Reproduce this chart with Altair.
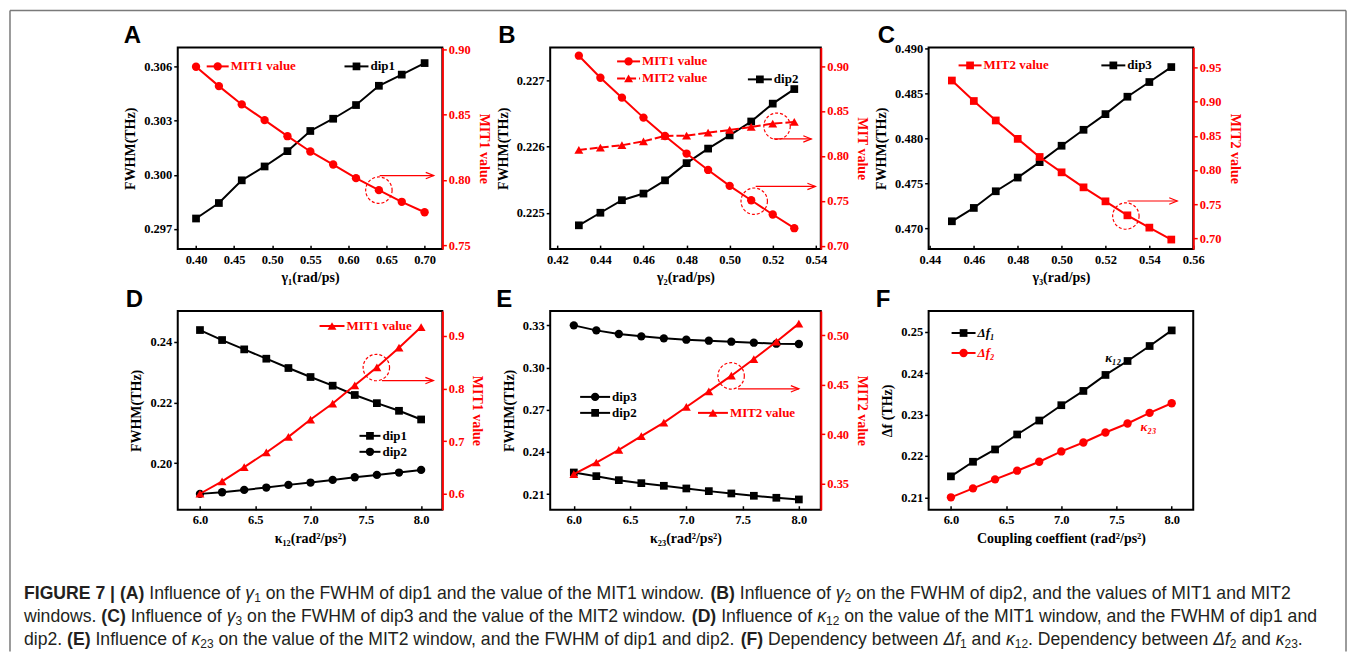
import altair as alt
import pandas as pd

SERIF = "Liberation Serif"
SANS = "Liberation Sans"
RED = "#ff0000"
BLACK = "#000000"
CAPC = "#231f20"

# ---------------- data ----------------
a_x = [0.40, 0.43, 0.46, 0.49, 0.52, 0.55, 0.58, 0.61, 0.64, 0.67, 0.70]
a_dip1 = [0.29757, 0.29843, 0.29969, 0.30046, 0.30131, 0.30243, 0.30311, 0.30387, 0.30494, 0.30556, 0.30620]
a_mit1 = [0.8865, 0.8717, 0.8577, 0.8457, 0.8334, 0.8217, 0.8117, 0.8013, 0.7921, 0.7832, 0.7752]

b_x = [0.43, 0.44, 0.45, 0.46, 0.47, 0.48, 0.49, 0.50, 0.51, 0.52, 0.53]
b_dip2 = [0.22481, 0.22500, 0.22519, 0.22529, 0.22549, 0.22575, 0.22597, 0.22617, 0.22638, 0.22665, 0.22687]
b_mit1 = [0.9115, 0.8870, 0.8648, 0.8426, 0.8222, 0.8026, 0.7844, 0.7667, 0.7507, 0.7348, 0.7196]
b_mit2 = [0.8067, 0.8093, 0.8119, 0.8163, 0.8222, 0.8226, 0.8259, 0.8289, 0.8322, 0.8359, 0.8378]

c_x = [0.45, 0.46, 0.47, 0.48, 0.49, 0.50, 0.51, 0.52, 0.53, 0.54, 0.55]
c_dip3 = [0.47079, 0.47227, 0.47412, 0.47564, 0.47735, 0.47917, 0.48094, 0.48268, 0.48461, 0.48624, 0.48790]
c_mit2 = [0.931, 0.901, 0.8725, 0.8455, 0.819, 0.7965, 0.7745, 0.754, 0.7335, 0.7155, 0.698]

k_x = [6.0, 6.2, 6.4, 6.6, 6.8, 7.0, 7.2, 7.4, 7.6, 7.8, 8.0]
d_dip1 = [0.24384, 0.24055, 0.23748, 0.23441, 0.23134, 0.22838, 0.22553, 0.22247, 0.21978, 0.21726, 0.21441]
d_dip2 = [0.18992, 0.19047, 0.19123, 0.19200, 0.19288, 0.19364, 0.19452, 0.19540, 0.19616, 0.19693, 0.19781]
d_mit1 = [0.600, 0.6234, 0.6506, 0.6785, 0.7082, 0.7411, 0.7715, 0.8063, 0.8405, 0.8778, 0.9171]

e_dip3 = [0.33000, 0.32645, 0.32385, 0.32219, 0.32077, 0.31982, 0.31911, 0.31840, 0.31769, 0.31698, 0.31675]
e_dip2 = [0.22538, 0.22278, 0.21994, 0.21780, 0.21592, 0.21402, 0.21213, 0.21047, 0.20882, 0.20740, 0.20621]
e_mit2 = [0.3598, 0.3715, 0.3843, 0.3981, 0.4118, 0.4276, 0.4434, 0.4592, 0.4760, 0.4935, 0.5118]

f_df1 = [0.21506, 0.21859, 0.22156, 0.22518, 0.22855, 0.23225, 0.23570, 0.23956, 0.24293, 0.24655, 0.25032]
f_df2 = [0.21000, 0.21217, 0.21434, 0.21643, 0.21859, 0.22108, 0.22325, 0.22566, 0.22783, 0.23040, 0.23273]

# tick labels
a_xticks = [0.40, 0.45, 0.50, 0.55, 0.60, 0.65, 0.70]
a_lticks = [0.297, 0.300, 0.303, 0.306]
a_rticks = [0.75, 0.80, 0.85, 0.90]
b_xticks = [0.42, 0.44, 0.46, 0.48, 0.50, 0.52, 0.54]
b_lticks = [0.225, 0.226, 0.227]
b_rticks = [0.70, 0.75, 0.80, 0.85, 0.90]
c_xticks = [0.44, 0.46, 0.48, 0.50, 0.52, 0.54, 0.56]
c_lticks = [0.470, 0.475, 0.480, 0.485, 0.490]
c_rticks = [0.70, 0.75, 0.80, 0.85, 0.90, 0.95]
k_xticks = [6.0, 6.5, 7.0, 7.5, 8.0]
d_lticks = [0.20, 0.22, 0.24]
d_rticks = [0.6, 0.7, 0.8, 0.9]
e_lticks = [0.21, 0.24, 0.27, 0.30, 0.33]
e_rticks = [0.35, 0.40, 0.45, 0.50]
f_lticks = [0.21, 0.22, 0.23, 0.24, 0.25]

# highlight circles (x, y on right scale) and arrows (x1, x2, y)
a_circ = [(0.64, 0.7921)]
a_arrow = [(0.641, 0.712, 0.8033)]
b_circ = [(0.522, 0.833), (0.5114, 0.7496)]
b_arrow = [(0.5205, 0.5379, 0.8189), (0.5121, 0.5398, 0.766)]
c_circ = [(0.5293, 0.7325)]
c_arrow = [(0.5301, 0.5527, 0.7545)]
d_circ = [(7.595, 0.840)]
d_arrow = [(7.646, 8.111, 0.8152)]
e_circ = [(7.398, 0.459)]
e_arrow = [(7.459, 8.0, 0.4459)]

ONE = pd.DataFrame({"o": [0]})
SIZES = {"square": 60, "circle": 70, "triangle-up": 80}


def xaxis(p):
    return alt.Axis(values=p["xticks"], format=p["xfmt"], title=p["xtitle"], orient="bottom",
                    offset=-4, domain=False, grid=False, tickSize=4, tickWidth=1.5, tickColor=BLACK,
                    labelPadding=4, labelFont=SERIF, labelFontSize=12.5, labelFontWeight="bold",
                    labelColor=BLACK, labelFlush=False, labelOverlap=False,
                    titleFont=SERIF, titleFontSize=14, titleFontWeight="bold", titleColor=BLACK,
                    titlePadding=5)


def Xenc(p, field="x"):
    return alt.X(f"{field}:Q", scale=alt.Scale(domain=p["xdom"], nice=False, zero=False), axis=xaxis(p))


def Lenc(p):
    ax = alt.Axis(values=p["lticks"], format=p["lfmt"], title=p["ltitle"], orient="left",
                  domain=False, grid=False, tickSize=4, tickWidth=1.5, tickColor=BLACK,
                  labelPadding=2, labelFont=SERIF, labelFontSize=12.5, labelFontWeight="bold",
                  labelColor=BLACK, labelOverlap=False, labelFlush=False,
                  titleFont=SERIF, titleFontSize=14, titleFontWeight="bold", titleColor=BLACK,
                  titlePadding=6)
    return alt.Y("y:Q", scale=alt.Scale(domain=p["ldom"], nice=False, zero=False), axis=ax)


def Renc(p):
    ax = alt.Axis(values=p["rticks"], format=p["rfmt"], title=p["rtitle"], orient="right",
                  domain=True, domainColor=RED, domainWidth=2, grid=False, tickSize=4,
                  tickWidth=1.5, tickColor=RED, labelPadding=2, labelFont=SERIF,
                  labelFontSize=12.5, labelFontWeight="bold", labelColor=RED,
                  labelOverlap=False, labelFlush=False,
                  titleFont=SERIF, titleFontSize=14, titleFontWeight="bold", titleColor=RED,
                  titlePadding=6)
    return alt.Y("y:Q", scale=alt.Scale(domain=p["rdom"], nice=False, zero=False), axis=ax)


def series(xs, ys, color, shape, X, Y, dash=None):
    df = pd.DataFrame({"x": xs, "y": ys})
    lk = {"color": color, "strokeWidth": 2}
    if dash:
        lk["strokeDash"] = dash
    line = alt.Chart(df).mark_line(**lk).encode(x=X, y=Y)
    pts = alt.Chart(df).mark_point(shape=shape, size=SIZES[shape], filled=True, color=color,
                                   opacity=1, strokeWidth=0).encode(x=X, y=Y)
    return [line, pts]


def highlights(p, Y):
    out = []
    for cx, cy in p.get("circ", []):
        df = pd.DataFrame({"x": [cx], "y": [cy]})
        out.append(alt.Chart(df).mark_point(shape="circle", size=700, filled=False, color=RED,
                                            strokeWidth=1.2, strokeDash=[3, 2], opacity=1)
                   .encode(x=Xenc(p), y=Y))
    for x1, x2, yy in p.get("arrow", []):
        df = pd.DataFrame({"x": [x1], "x2": [x2], "y": [yy]})
        out.append(alt.Chart(df).mark_rule(color=RED, strokeWidth=1.2)
                   .encode(x=Xenc(p), x2="x2:Q", y=Y))
        out.append(alt.Chart(df).mark_point(shape="M-1,-0.4L0,0L-1,0.4", size=256, filled=False,
                                            color=RED, strokeWidth=1.2, opacity=1)
                   .encode(x=Xenc(p, "x2"), y=Y))
    return out


def legend_item(x1, x2, y, label, color, shape, dash=None, italic=False):
    xm = (x1 + x2) / 2
    rk = {"color": color, "strokeWidth": 2}
    if dash:
        rk["strokeDash"] = dash
    line = alt.Chart(ONE).mark_rule(**rk).encode(x=alt.value(x1), x2=alt.value(x2), y=alt.value(y))
    pt = alt.Chart(ONE).mark_point(shape=shape, size=SIZES[shape], filled=True, color=color,
                                   opacity=1, strokeWidth=0).encode(x=alt.value(xm), y=alt.value(y))
    tx = alt.Chart(ONE).mark_text(text=label, align="left", baseline="middle", font=SERIF,
                                  fontSize=13, fontWeight="bold", color=color,
                                  fontStyle="italic" if italic else "normal").encode(
        x=alt.value(x2 + 2), y=alt.value(y))
    return [line, pt, tx]


def panel(p):
    X = Xenc(p)
    L = Lenc(p)
    left = []
    for xs, ys, color, shape, dash in p["left"]:
        left += series(xs, ys, color, shape, X, L, dash)
    for tx, ty, label, color in p.get("notes", []):
        df = pd.DataFrame({"x": [tx], "y": [ty]})
        left.append(alt.Chart(df).mark_text(text=label, font=SERIF, fontSize=13, fontWeight="bold",
                                            fontStyle="italic", color=color)
                    .encode(x=X, y=L))
    groups = [alt.layer(*left)]
    if "right" in p:
        R = Renc(p)
        right = []
        for xs, ys, color, shape, dash in p["right"]:
            right += series(xs, ys, color, shape, X, R, dash)
        right += highlights(p, R)
        groups.append(alt.layer(*right))
    deco = []
    for item in p["legend"]:
        deco += legend_item(*item)
    lx, ly = p["letter"]
    deco.append(alt.Chart(ONE).mark_text(text=p["name"], align="left", baseline="alphabetic",
                                         font=SANS, fontSize=24, fontWeight="bold", color=BLACK)
                .encode(x=alt.value(lx), y=alt.value(ly)))
    groups.append(alt.layer(*deco))
    ch = alt.layer(*groups)
    if "right" in p:
        ch = ch.resolve_scale(y="independent")
    return ch.properties(width=p["W"], height=p["H"])


PA = dict(name="A", W=265, H=202, xdom=[0.376, 0.7233], xticks=a_xticks, xfmt=".2f", xtitle="γ₁(rad/ps)",
          ldom=[0.29587, 0.30707], lticks=a_lticks, lfmt=".3f", ltitle="FWHM(THz)",
          rdom=[0.747, 0.9013], rticks=a_rticks, rfmt=".2f", rtitle="MIT1 value",
          left=[(a_x, a_dip1, BLACK, "square", None)],
          right=[(a_x, a_mit1, RED, "circle", None)],
          circ=a_circ, arrow=a_arrow,
          legend=[(29, 51, 19, "MIT1 value", RED, "circle"), (167, 191, 19, "dip1", BLACK, "square")],
          letter=(-54, -4))

PB = dict(name="B", W=271, H=202, xdom=[0.4167, 0.5423], xticks=b_xticks, xfmt=".2f", xtitle="γ₂(rad/ps)",
          ldom=[0.22445, 0.2275], lticks=b_lticks, lfmt=".3f", ltitle="FWHM(THz)",
          rdom=[0.6963, 0.9207], rticks=b_rticks, rfmt=".2f", rtitle="MIT value",
          left=[(b_x, b_dip2, BLACK, "square", None)],
          right=[(b_x, b_mit1, RED, "circle", None), (b_x, b_mit2, RED, "triangle-up", [8, 3])],
          circ=b_circ, arrow=b_arrow,
          legend=[(67, 90, 14, "MIT1 value", RED, "circle"),
                  (67, 90, 31, "MIT2 value", RED, "triangle-up", [8, 3]),
                  (198, 222, 32, "dip2", BLACK, "square")],
          letter=(-52, -4))

PC = dict(name="C", W=265, H=202, xdom=[0.4394, 0.5600], xticks=c_xticks, xfmt=".2f", xtitle="γ₃(rad/ps)",
          ldom=[0.4677, 0.49008], lticks=c_lticks, lfmt=".3f", ltitle="FWHM(THz)",
          rdom=[0.684, 0.9795], rticks=c_rticks, rfmt=".2f", rtitle="MIT2 value",
          left=[(c_x, c_dip3, BLACK, "square", None)],
          right=[(c_x, c_mit2, RED, "square", None)],
          circ=c_circ, arrow=c_arrow,
          legend=[(30, 53, 18, "MIT2 value", RED, "square"), (173, 197, 18, "dip3", BLACK, "square")],
          letter=(-51, -4))

PD = dict(name="D", W=265, H=199, xdom=[5.799, 8.192], xticks=k_xticks, xfmt=".1f", xtitle="κ₁₂(rad²/ps²)",
          ldom=[0.1847, 0.2501], lticks=d_lticks, lfmt=".2f", ltitle="FWHM(THz)",
          rdom=[0.5696, 0.9475], rticks=d_rticks, rfmt=".1f", rtitle="MIT1 value",
          left=[(k_x, d_dip1, BLACK, "square", None), (k_x, d_dip2, BLACK, "circle", None)],
          right=[(k_x, d_mit1, RED, "triangle-up", None)],
          circ=d_circ, arrow=d_arrow,
          legend=[(142, 167, 15, "MIT1 value", RED, "triangle-up"),
                  (182, 203, 125, "dip1", BLACK, "square"),
                  (182, 203, 141, "dip2", BLACK, "circle")],
          letter=(-52, -4))

PE = dict(name="E", W=271, H=199, xdom=[5.79, 8.195], xticks=k_xticks, xfmt=".1f", xtitle="κ₂₃(rad²/ps²)",
          ldom=[0.1989, 0.3402], lticks=e_lticks, lfmt=".2f", ltitle="FWHM(THz)",
          rdom=[0.3238, 0.5245], rticks=e_rticks, rfmt=".2f", rtitle="MIT2 value",
          left=[(k_x, e_dip3, BLACK, "circle", None), (k_x, e_dip2, BLACK, "square", None)],
          right=[(k_x, e_mit2, RED, "triangle-up", None)],
          circ=e_circ, arrow=e_arrow,
          legend=[(30, 60, 86, "dip3", BLACK, "circle"),
                  (30, 60, 102, "dip2", BLACK, "square"),
                  (148, 178, 102, "  MIT2 value", RED, "triangle-up")],
          letter=(-54, -4))

PF = dict(name="F", W=265, H=199, xdom=[5.798, 8.195], xticks=k_xticks, xfmt=".1f",
          xtitle="Coupling coeffient (rad²/ps²)",
          ldom=[0.2070, 0.2550], lticks=f_lticks, lfmt=".2f", ltitle="Δf (THz)",
          left=[(k_x, f_df1, BLACK, "square", None), (k_x, f_df2, RED, "circle", None)],
          notes=[(7.47, 0.2436, "κ₁₂", BLACK), (7.79, 0.2271, "κ₂₃", RED)],
          legend=[(23, 47, 22, "Δf₁", BLACK, "square", None, True),
                  (23, 47, 42, "Δf₂", RED, "circle", None, True)],
          letter=(-53, -4))

# ---------------- caption ----------------
REG = {" ": 278, ".": 278, ",": 278, "(": 333, ")": 333, "|": 260,
       "a": 556, "b": 556, "c": 500, "d": 556, "e": 556, "f": 278, "g": 556, "h": 556, "i": 222,
       "j": 222, "k": 500, "l": 222, "m": 833, "n": 556, "o": 556, "p": 556, "q": 556, "r": 333,
       "s": 500, "t": 278, "u": 556, "v": 500, "w": 722, "x": 500, "y": 500, "z": 500,
       "A": 667, "B": 667, "C": 722, "D": 722, "E": 667, "F": 611, "G": 778, "H": 722, "I": 278,
       "M": 833, "T": 611, "U": 722, "R": 722, "W": 944, "γ": 500, "κ": 500, "Δ": 668}
BOLD = dict(REG)
BOLD.update({"A": 722, "B": 722, "C": 722, "D": 722, "E": 667, "F": 611, "G": 778, "I": 278,
             "R": 722, "U": 722, "|": 280})


def wid(s, table):
    return sum(table.get(ch, 556) for ch in s) / 1000.0


CAP_LINES = [
    [("FIGURE 7 | ", "b"), ("(A)", "b"), (" Influence of ", "r"), ("γ", "i"), ("1", "s"),
     (" on the FWHM of dip1 and the value of the MIT1 window. ", "r"), ("(B)", "b"),
     (" Influence of ", "r"), ("γ", "i"), ("2", "s"),
     (" on the FWHM of dip2, and the values of MIT1 and MIT2", "r")],
    [("windows. ", "r"), ("(C)", "b"), (" Influence of ", "r"), ("γ", "i"), ("3", "s"),
     (" on the FWHM of dip3 and the value of the MIT2 window. ", "r"), ("(D)", "b"),
     (" Influence of ", "r"), ("κ", "i"), ("12", "s"),
     (" on the value of the MIT1 window, and the FWHM of dip1 and", "r")],
    [("dip2. ", "r"), ("(E)", "b"), (" Influence of ", "r"), ("κ", "i"), ("23", "s"),
     (" on the value of the MIT2 window, and the FWHM of dip1 and dip2. ", "r"), ("(F)", "b"),
     (" Dependency between ", "r"), ("Δf", "i"), ("1", "s"), (" and ", "r"), ("κ", "i"),
     ("12", "s"), (". Dependency between ", "r"), ("Δf", "i"), ("2", "s"), (" and ", "r"),
     ("κ", "i"), ("23", "s"), (".", "r")],
]
SUBF = 0.68


def line_width(segs):
    w = 0
    for t, st in segs:
        w += wid(t, BOLD if st == "b" else REG) * (SUBF if st == "s" else 1)
    return w


CAP_FS = 1269.0 / line_width(CAP_LINES[0])
CAP_X0 = -154
CAP_Y = [27, 50, 73]

rows = {"r": [], "b": [], "i": [], "s": []}
for li, segs in enumerate(CAP_LINES):
    x = CAP_X0
    for t, st in segs:
        table = BOLD if st == "b" else REG
        fs = CAP_FS * (SUBF if st == "s" else 1)
        stripped = t.lstrip(" ")
        x += (len(t) - len(stripped)) * table[" "] / 1000.0 * fs
        y = CAP_Y[li] + (CAP_FS * 0.2 if st == "s" else 0)
        if stripped:
            rows[st].append({"px": x, "py": y, "t": stripped})
        x += wid(stripped, table) * fs

cap_layers = []
for st, recs in rows.items():
    if not recs:
        continue
    df = pd.DataFrame(recs)
    mk = dict(align="left", baseline="alphabetic", font=SANS, color=CAPC,
              fontSize=CAP_FS * (SUBF if st == "s" else 1))
    if st == "b":
        mk["fontWeight"] = "bold"
    if st == "i":
        mk["fontStyle"] = "italic"
    cap_layers.append(alt.Chart(df).mark_text(**mk).encode(
        x=alt.X("px:Q", scale=None), y=alt.Y("py:Q", scale=None), text="t:N"))

# outer frame (left, top, right) in caption-cell pixel coordinates
FR = dict(color="#7a7a7a", strokeWidth=1.5)
cap_layers.append(alt.Chart(ONE).mark_rule(**FR).encode(x=alt.value(-168), y=alt.value(-562), y2=alt.value(80)))
cap_layers.append(alt.Chart(ONE).mark_rule(**FR).encode(x=alt.value(-168), x2=alt.value(1170), y=alt.value(-562)))
cap_layers.append(alt.Chart(ONE).mark_rule(**FR).encode(x=alt.value(1170), y=alt.value(-562), y2=alt.value(80)))

caption = alt.layer(*cap_layers).properties(width=265, height=80,
                                            view=alt.ViewBackground(stroke="transparent"))

chart = alt.concat(panel(PA), panel(PB), panel(PC), panel(PD), panel(PE), panel(PF), caption,
                   columns=3, spacing={"row": 62, "column": 108}, bounds="flush").properties(
    padding=0, background="white"
).configure_view(stroke=BLACK, strokeWidth=2)

chart.save("out.html", embed_options={"renderer": "svg", "actions": False})
